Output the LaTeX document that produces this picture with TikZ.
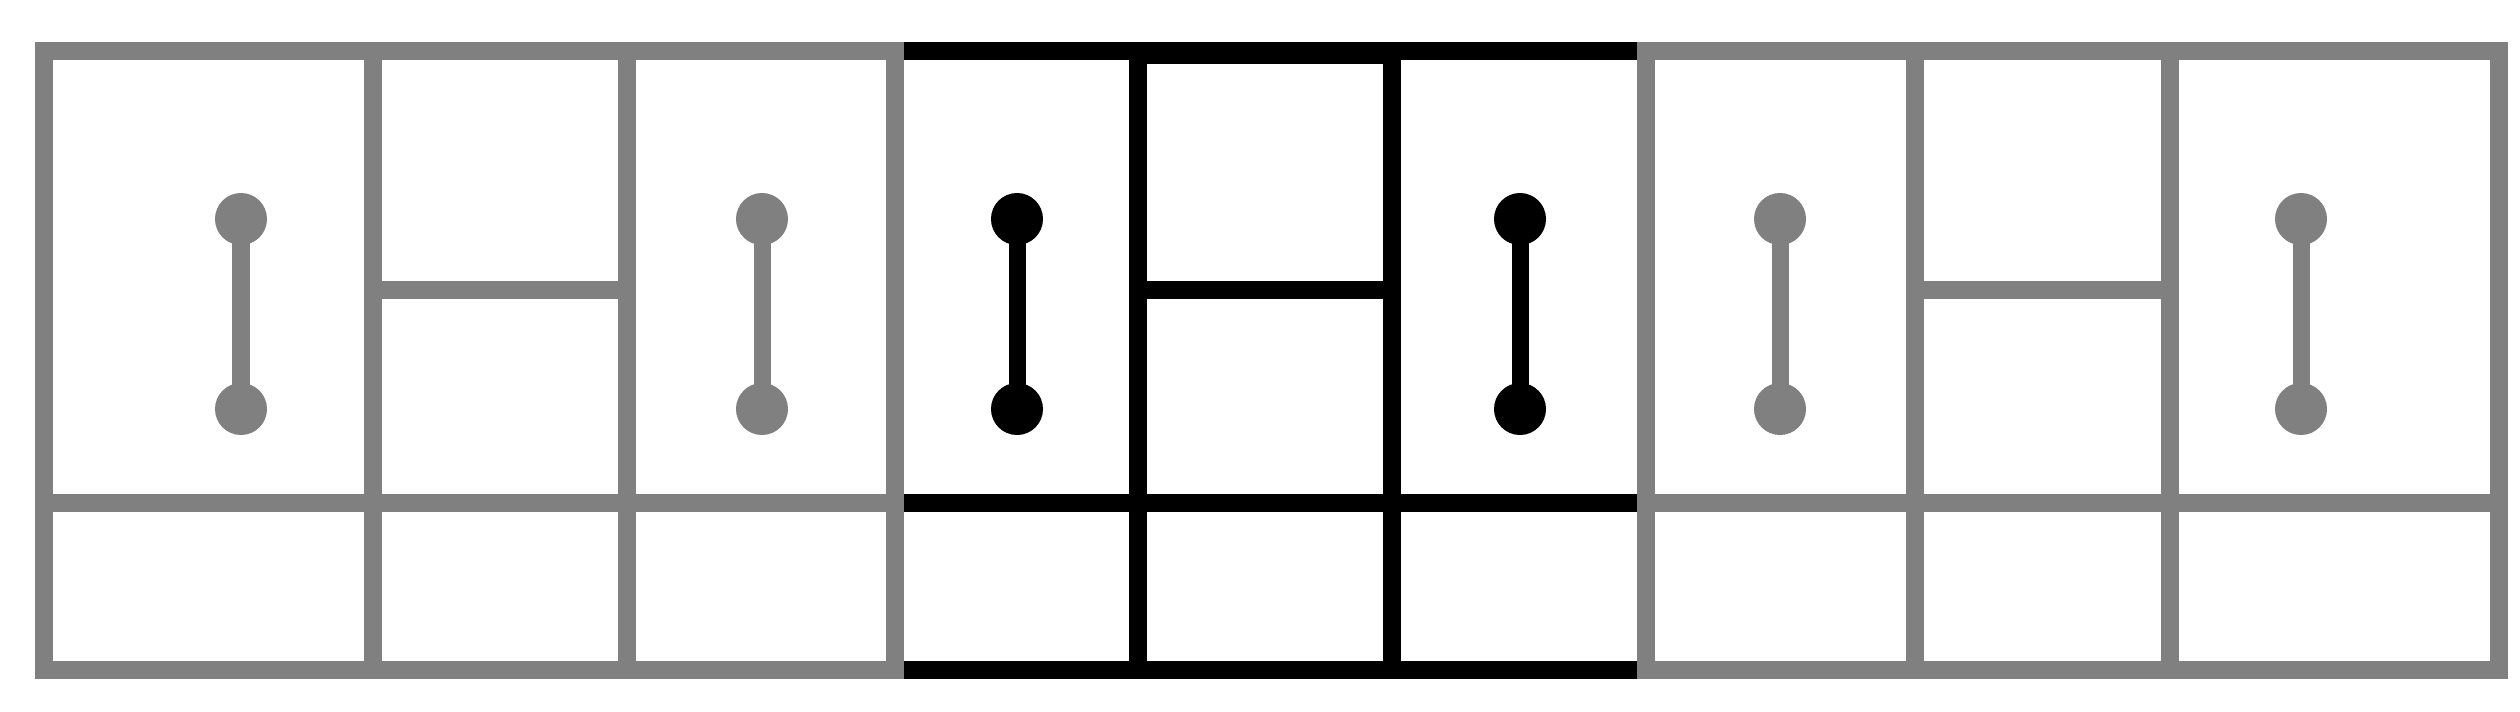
\documentclass[tikz,border=0pt]{standalone}
\begin{document}
\begin{tikzpicture}[x=0.01cm,y=-0.01cm,
  wall/.style={line width=0.173cm},
  knob/.style={circle,fill,inner sep=0pt,outer sep=0pt,minimum size=0.52cm},
  bar/.style={line width=0.17cm}]
\useasboundingbox (0,0) rectangle (2520,712);
% centre block (black)
\begin{scope}[black]
\draw[wall] (895,51) rectangle (1646,670);
\draw[wall] (1138,51) -- (1138,670) (1392,51) -- (1392,670)
            (895,503) -- (1646,503) (1138,290) -- (1392,290);
\draw[wall] (1138,55) -- (1392,55);
\node[knob] (c1t) at (1017,219) {};
\node[knob] (c1b) at (1017,409) {};
\node[knob] (c2t) at (1520,219) {};
\node[knob] (c2b) at (1520,409) {};
\draw[bar] (c1t.center) -- (c1b.center);
\draw[bar] (c2t.center) -- (c2b.center);
\end{scope}
% left block (gray)
\begin{scope}[gray]
\draw[wall] (44,51) rectangle (895,670);
\draw[wall] (373,51) -- (373,670) (627,51) -- (627,670)
            (44,503) -- (895,503) (373,290) -- (627,290);
\node[knob] (l1t) at (241,219) {};
\node[knob] (l1b) at (241,409) {};
\node[knob] (l2t) at (762,219) {};
\node[knob] (l2b) at (762,409) {};
\draw[bar] (l1t.center) -- (l1b.center);
\draw[bar] (l2t.center) -- (l2b.center);
\end{scope}
% right block (gray)
\begin{scope}[gray]
\draw[wall] (1646,51) rectangle (2499,670);
\draw[wall] (1915,51) -- (1915,670) (2170,51) -- (2170,670)
            (1646,503) -- (2499,503) (1915,290) -- (2170,290);
\node[knob] (r1t) at (1780,219) {};
\node[knob] (r1b) at (1780,409) {};
\node[knob] (r2t) at (2301,219) {};
\node[knob] (r2b) at (2301,409) {};
\draw[bar] (r1t.center) -- (r1b.center);
\draw[bar] (r2t.center) -- (r2b.center);
\end{scope}
\end{tikzpicture}
\end{document}
